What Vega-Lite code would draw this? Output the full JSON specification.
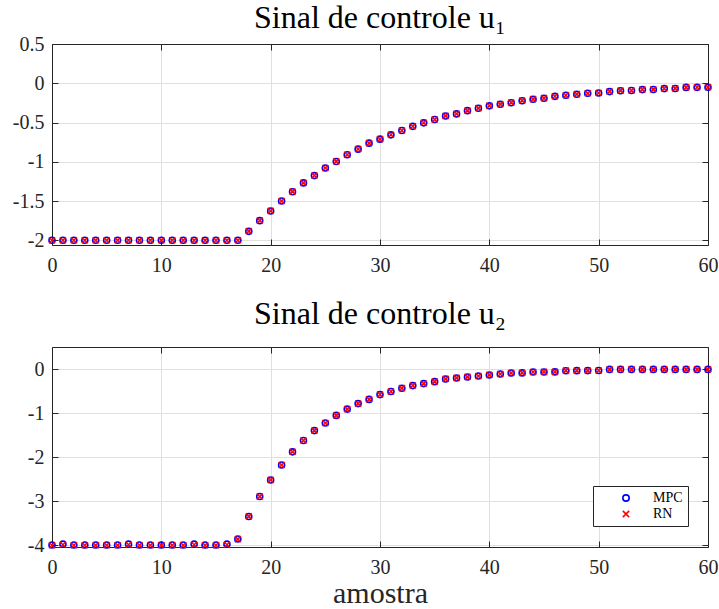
{
  "$schema": "https://vega.github.io/schema/vega-lite/v6.json",
  "autosize": {"type": "none"},
  "padding": {"left": 52, "top": 44, "right": 667, "bottom": 565},
  "background": "white",
  "datasets": {
    "u1": [
      {"k": 0, "MPC": -2, "RN": -2}, {"k": 1, "MPC": -2, "RN": -2}, {"k": 2, "MPC": -2, "RN": -2},
      {"k": 3, "MPC": -2, "RN": -2}, {"k": 4, "MPC": -2, "RN": -2}, {"k": 5, "MPC": -2, "RN": -2},
      {"k": 6, "MPC": -2, "RN": -2}, {"k": 7, "MPC": -2, "RN": -2}, {"k": 8, "MPC": -2, "RN": -2},
      {"k": 9, "MPC": -2, "RN": -2}, {"k": 10, "MPC": -2, "RN": -2}, {"k": 11, "MPC": -2, "RN": -2},
      {"k": 12, "MPC": -2, "RN": -2}, {"k": 13, "MPC": -2, "RN": -2}, {"k": 14, "MPC": -2, "RN": -2},
      {"k": 15, "MPC": -2, "RN": -2}, {"k": 16, "MPC": -2, "RN": -2}, {"k": 17, "MPC": -2, "RN": -2},
      {"k": 18, "MPC": -1.886, "RN": -1.884}, {"k": 19, "MPC": -1.75, "RN": -1.748},
      {"k": 20, "MPC": -1.627, "RN": -1.625}, {"k": 21, "MPC": -1.5, "RN": -1.499},
      {"k": 22, "MPC": -1.381, "RN": -1.38}, {"k": 23, "MPC": -1.269, "RN": -1.268},
      {"k": 24, "MPC": -1.176, "RN": -1.175}, {"k": 25, "MPC": -1.08, "RN": -1.079},
      {"k": 26, "MPC": -0.996, "RN": -0.995}, {"k": 27, "MPC": -0.911, "RN": -0.91},
      {"k": 28, "MPC": -0.839, "RN": -0.838}, {"k": 29, "MPC": -0.763, "RN": -0.762},
      {"k": 30, "MPC": -0.712, "RN": -0.711}, {"k": 31, "MPC": -0.657, "RN": -0.656},
      {"k": 32, "MPC": -0.602, "RN": -0.601}, {"k": 33, "MPC": -0.549, "RN": -0.548},
      {"k": 34, "MPC": -0.504, "RN": -0.503}, {"k": 35, "MPC": -0.462, "RN": -0.461},
      {"k": 36, "MPC": -0.417, "RN": -0.416}, {"k": 37, "MPC": -0.39, "RN": -0.389},
      {"k": 38, "MPC": -0.349, "RN": -0.348}, {"k": 39, "MPC": -0.318, "RN": -0.317},
      {"k": 40, "MPC": -0.288, "RN": -0.287}, {"k": 41, "MPC": -0.267, "RN": -0.266},
      {"k": 42, "MPC": -0.248, "RN": -0.247}, {"k": 43, "MPC": -0.222, "RN": -0.221},
      {"k": 44, "MPC": -0.203, "RN": -0.202}, {"k": 45, "MPC": -0.19, "RN": -0.189},
      {"k": 46, "MPC": -0.167, "RN": -0.166}, {"k": 47, "MPC": -0.153, "RN": -0.152},
      {"k": 48, "MPC": -0.14, "RN": -0.139}, {"k": 49, "MPC": -0.128, "RN": -0.127},
      {"k": 50, "MPC": -0.125, "RN": -0.124}, {"k": 51, "MPC": -0.106, "RN": -0.105},
      {"k": 52, "MPC": -0.095, "RN": -0.094}, {"k": 53, "MPC": -0.093, "RN": -0.092},
      {"k": 54, "MPC": -0.081, "RN": -0.08}, {"k": 55, "MPC": -0.079, "RN": -0.078},
      {"k": 56, "MPC": -0.068, "RN": -0.067}, {"k": 57, "MPC": -0.066, "RN": -0.065},
      {"k": 58, "MPC": -0.053, "RN": -0.052}, {"k": 59, "MPC": -0.052, "RN": -0.051},
      {"k": 60, "MPC": -0.051, "RN": -0.05}
    ],
    "u2": [
      {"k": 0, "MPC": -3.995, "RN": -4}, {"k": 1, "MPC": -3.975, "RN": -3.99}, {"k": 2, "MPC": -3.995, "RN": -4},
      {"k": 3, "MPC": -3.995, "RN": -4}, {"k": 4, "MPC": -3.995, "RN": -4}, {"k": 5, "MPC": -3.995, "RN": -4},
      {"k": 6, "MPC": -3.995, "RN": -4}, {"k": 7, "MPC": -3.975, "RN": -3.99}, {"k": 8, "MPC": -3.995, "RN": -4},
      {"k": 9, "MPC": -3.995, "RN": -4}, {"k": 10, "MPC": -3.995, "RN": -4}, {"k": 11, "MPC": -3.995, "RN": -4},
      {"k": 12, "MPC": -3.995, "RN": -4}, {"k": 13, "MPC": -3.975, "RN": -3.99}, {"k": 14, "MPC": -3.995, "RN": -4},
      {"k": 15, "MPC": -3.995, "RN": -4}, {"k": 16, "MPC": -3.975, "RN": -3.99},
      {"k": 17, "MPC": -3.857, "RN": -3.86}, {"k": 18, "MPC": -3.346, "RN": -3.345},
      {"k": 19, "MPC": -2.895, "RN": -2.893}, {"k": 20, "MPC": -2.519, "RN": -2.517},
      {"k": 21, "MPC": -2.18, "RN": -2.178}, {"k": 22, "MPC": -1.88, "RN": -1.879},
      {"k": 23, "MPC": -1.624, "RN": -1.623}, {"k": 24, "MPC": -1.398, "RN": -1.397},
      {"k": 25, "MPC": -1.226, "RN": -1.225}, {"k": 26, "MPC": -1.053, "RN": -1.052},
      {"k": 27, "MPC": -0.91, "RN": -0.909}, {"k": 28, "MPC": -0.785, "RN": -0.784},
      {"k": 29, "MPC": -0.69, "RN": -0.689}, {"k": 30, "MPC": -0.58, "RN": -0.579},
      {"k": 31, "MPC": -0.511, "RN": -0.51}, {"k": 32, "MPC": -0.436, "RN": -0.435},
      {"k": 33, "MPC": -0.376, "RN": -0.375}, {"k": 34, "MPC": -0.331, "RN": -0.33},
      {"k": 35, "MPC": -0.286, "RN": -0.285}, {"k": 36, "MPC": -0.226, "RN": -0.225},
      {"k": 37, "MPC": -0.203, "RN": -0.202}, {"k": 38, "MPC": -0.18, "RN": -0.179},
      {"k": 39, "MPC": -0.158, "RN": -0.157}, {"k": 40, "MPC": -0.135, "RN": -0.134},
      {"k": 41, "MPC": -0.113, "RN": -0.112}, {"k": 42, "MPC": -0.09, "RN": -0.089},
      {"k": 43, "MPC": -0.088, "RN": -0.087}, {"k": 44, "MPC": -0.068, "RN": -0.067},
      {"k": 45, "MPC": -0.066, "RN": -0.065}, {"k": 46, "MPC": -0.065, "RN": -0.064},
      {"k": 47, "MPC": -0.038, "RN": -0.037}, {"k": 48, "MPC": -0.037, "RN": -0.036},
      {"k": 49, "MPC": -0.036, "RN": -0.035}, {"k": 50, "MPC": -0.035, "RN": -0.034},
      {"k": 51, "MPC": -0.008, "RN": -0.008}, {"k": 52, "MPC": -0.008, "RN": -0.008},
      {"k": 53, "MPC": -0.008, "RN": -0.008}, {"k": 54, "MPC": -0.008, "RN": -0.008},
      {"k": 55, "MPC": -0.008, "RN": -0.008}, {"k": 56, "MPC": -0.008, "RN": -0.008},
      {"k": 57, "MPC": -0.008, "RN": -0.008}, {"k": 58, "MPC": -0.008, "RN": -0.008},
      {"k": 59, "MPC": -0.008, "RN": -0.008}, {"k": 60, "MPC": -0.008, "RN": -0.008}
    ]
  },
  "bounds": "flush",
  "spacing": 102,
  "vconcat": [
    {
      "title": {"text": "Sinal de controle u₁", "offset": -1, "fontSize": 32},
      "width": 656,
      "height": 201,
      "data": {"name": "u1"},
      "transform": [{"fold": ["MPC", "RN"], "as": ["serie", "valor"]}],
      "layer": [
        {
          "mark": {"type": "point", "filled": false, "opacity": 1, "strokeWidth": 1.6, "size": 36},
          "encoding": {
            "x": {"field": "k", "type": "quantitative", "scale": {"domain": [0, 60], "nice": false},
              "axis": {"orient": "bottom", "values": [0, 10, 20, 30, 40, 50, 60], "grid": true, "title": null, "labelExpr": "datum.value + ''"}},
            "y": {"field": "valor", "type": "quantitative", "scale": {"domain": [-2.06, 0.5], "nice": false, "zero": false},
              "axis": {"orient": "left", "values": [-2, -1.5, -1, -0.5, 0, 0.5], "grid": true, "title": null, "labelExpr": "datum.value + ''"}},
            "color": {"field": "serie", "type": "nominal", "scale": {"domain": ["MPC", "RN"], "range": ["#0000ff", "#ff0000"]}, "legend": null},
            "shape": {"field": "serie", "type": "nominal", "scale": {"domain": ["MPC", "RN"], "range": ["circle", "M-1,-1L1,1M-1,1L1,-1"]}, "legend": null}
          }
        },
        {
          "mark": {"type": "point", "opacity": 0},
          "encoding": {
            "x": {"field": "k", "type": "quantitative", "axis": {"orient": "top", "values": [0, 10, 20, 30, 40, 50, 60], "labels": false, "grid": false, "title": null}},
            "y": {"field": "valor", "type": "quantitative", "axis": {"orient": "right", "values": [-2, -1.5, -1, -0.5, 0, 0.5], "labels": false, "grid": false, "title": null}}
          }
        }
      ],
      "resolve": {"axis": {"x": "independent", "y": "independent"}}
    },
    {
      "title": {"text": "Sinal de controle u₂", "offset": 16, "fontSize": 32},
      "width": 656,
      "height": 200,
      "data": {"name": "u2"},
      "transform": [{"fold": ["MPC", "RN"], "as": ["serie", "valor"]}],
      "layer": [
        {
          "mark": {"type": "point", "filled": false, "opacity": 1, "strokeWidth": 1.6, "size": 36},
          "encoding": {
            "x": {"field": "k", "type": "quantitative", "scale": {"domain": [0, 60], "nice": false},
              "axis": {"orient": "bottom", "values": [0, 10, 20, 30, 40, 50, 60], "grid": true, "title": "amostra", "titleY": 55, "titleBaseline": "alphabetic", "labelExpr": "datum.value + ''"}},
            "y": {"field": "valor", "type": "quantitative", "scale": {"domain": [-4.04, 0.5], "nice": false, "zero": false},
              "axis": {"orient": "left", "values": [-4, -3, -2, -1, 0], "grid": true, "title": null, "labelExpr": "datum.value + ''"}},
            "color": {"field": "serie", "type": "nominal", "scale": {"domain": ["MPC", "RN"], "range": ["#0000ff", "#ff0000"]},
              "legend": {"title": null, "orient": "none", "legendX": 541, "legendY": 139, "direction": "vertical", "padding": 5, "strokeColor": "#262626", "fillColor": "white", "symbolOffset": 21, "labelOffset": 20, "symbolSize": 40, "symbolStrokeWidth": 1.6, "labelFontSize": 14, "labelFont": "Liberation Serif", "labelColor": "#000000", "rowPadding": 2, "cornerRadius": 0}},
            "shape": {"field": "serie", "type": "nominal", "scale": {"domain": ["MPC", "RN"], "range": ["circle", "M-1,-1L1,1M-1,1L1,-1"]},
              "legend": {"title": null, "orient": "none", "legendX": 541, "legendY": 139, "direction": "vertical", "padding": 5, "strokeColor": "#262626", "fillColor": "white", "symbolOffset": 21, "labelOffset": 20, "symbolSize": 40, "symbolStrokeWidth": 1.6, "labelFontSize": 14, "labelFont": "Liberation Serif", "labelColor": "#000000", "rowPadding": 2, "cornerRadius": 0}}
          }
        },
        {
          "mark": {"type": "point", "opacity": 0},
          "encoding": {
            "x": {"field": "k", "type": "quantitative", "axis": {"orient": "top", "values": [0, 10, 20, 30, 40, 50, 60], "labels": false, "grid": false, "title": null}},
            "y": {"field": "valor", "type": "quantitative", "axis": {"orient": "right", "values": [-4, -3, -2, -1, 0], "labels": false, "grid": false, "title": null}}
          }
        }
      ],
      "resolve": {"axis": {"x": "independent", "y": "independent"}}
    }
  ],
  "resolve": {"scale": {"color": "independent", "shape": "independent"}},
  "config": {
    "font": "Liberation Serif",
    "view": {"stroke": null},
    "axis": {
      "domainColor": "#262626", "domainWidth": 1, "tickColor": "#262626", "tickSize": -6, "tickWidth": 1,
      "gridColor": "#e0e0e0", "gridWidth": 1, "labelFont": "Liberation Serif", "labelFontSize": 20,
      "labelColor": "#262626", "labelFlush": false, "labelOverlap": false,
      "titleFont": "Liberation Serif", "titleFontSize": 30, "titleFontWeight": "normal", "titleColor": "#262626"
    },
    "axisX": {"labelPadding": 16},
    "axisY": {"labelPadding": 14},
    "title": {"font": "Liberation Serif", "fontSize": 32, "fontWeight": "normal", "color": "#000000", "baseline": "alphabetic", "frame": "group", "anchor": "middle"}
  }
}
